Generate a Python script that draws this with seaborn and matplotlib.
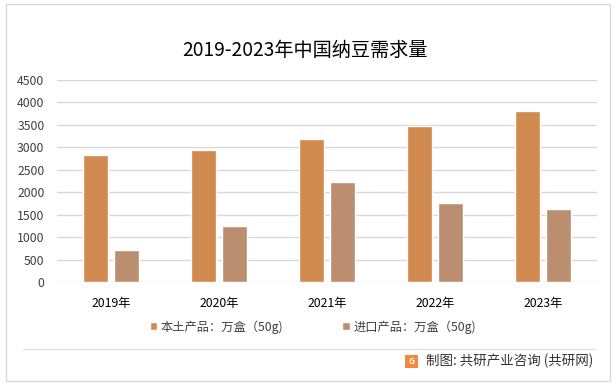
import pandas as pd
import seaborn as sns
import matplotlib.pyplot as plt
from matplotlib.patches import Rectangle
from matplotlib.lines import Line2D

# data
years = ["2019年", "2020年", "2021年", "2022年", "2023年"]
local_vals = [2830, 2940, 3185, 3470, 3805]
import_vals = [720, 1250, 2230, 1760, 1630]
series_names = ["本土产品：万盒（50g)", "进口产品：万盒（50g)"]
colors = ["#D28B4E", "#BA8E6E"]

df = pd.DataFrame({
    "year": years * 2,
    "value": local_vals + import_vals,
    "series": [series_names[0]] * len(years) + [series_names[1]] * len(years),
})

sns.set_theme(style="white")
plt.rcParams["font.family"] = ["Noto Sans CJK SC", "DejaVu Sans"]

fig = plt.figure(figsize=(6.16, 3.86), dpi=100)
ax = fig.add_axes([0.0925, 0.2694, 0.8765, 0.5233])

sns.barplot(data=df, x="year", y="value", hue="series", palette=colors,
            width=0.574, gap=0.2, saturation=1, ax=ax)

ax.set_ylim(0, 4500)
ax.set_yticks(range(0, 4501, 500))
ax.yaxis.grid(True, color="#D9D9D9", linewidth=1)
ax.set_axisbelow(True)
for s in ax.spines.values():
    s.set_visible(False)
ax.set_xlabel("")
ax.set_ylabel("")
ax.tick_params(axis="y", length=0, pad=9, labelsize=8.8, labelcolor="#404040")
ax.tick_params(axis="x", length=0, pad=11, labelsize=8.8, labelcolor="#000000")

sns.move_legend(ax, "center", bbox_to_anchor=(0.508, 0.153),
                bbox_transform=fig.transFigure, ncol=2, frameon=False,
                title=None, fontsize=8.8, handlelength=0.6, handleheight=0.6,
                handletextpad=0.3, columnspacing=4.8)
for t in ax.get_legend().get_texts():
    t.set_color("#404040")

fig.text(0.495, 0.87, "2019-2023年中国纳豆需求量", ha="center", va="center",
         fontsize=13.8, color="#000000")

# outer frame and footer
fig.patches.append(Rectangle((0.0097, 0.013), 0.9805, 0.9767, transform=fig.transFigure,
                             fill=False, edgecolor="#D9D9D9", linewidth=1))
fig.lines.append(Line2D([0.037, 0.966], [0.0959, 0.0959], transform=fig.transFigure,
                        color="#E3E3E3", linewidth=1))
fig.patches.append(Rectangle((0.658, 0.047), 0.021, 0.034, transform=fig.transFigure,
                             facecolor="#F08A3C", edgecolor="none"))
fig.text(0.6685, 0.064, "G", ha="center", va="center", fontsize=6,
         color="white", fontweight="bold")
fig.text(0.692, 0.064, "制图: 共研产业咨询 (共研网)", ha="left", va="center",
         fontsize=9.7, color="#333333")

fig.savefig("out.png", dpi=100)
